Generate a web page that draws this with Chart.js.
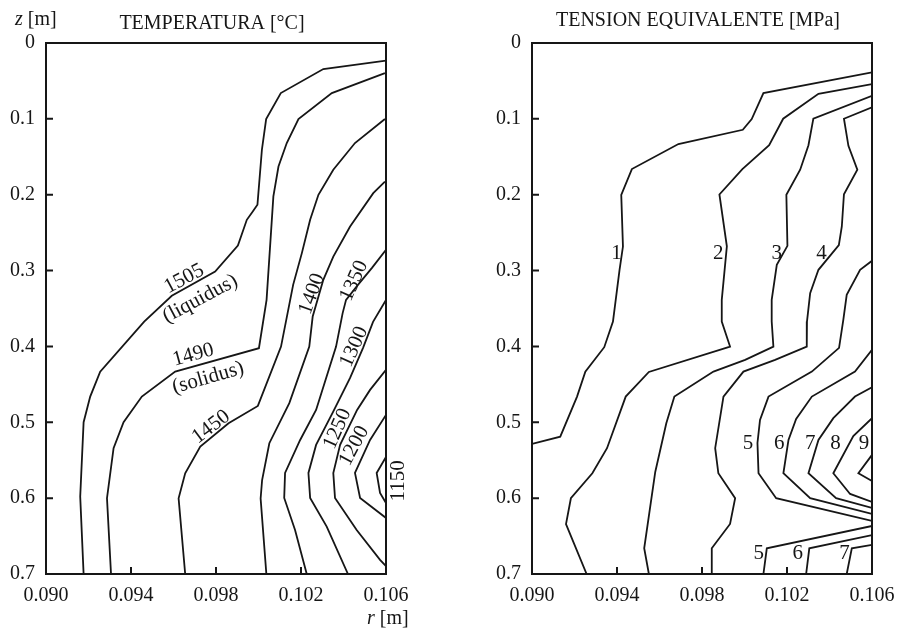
<!DOCTYPE html>
<html>
<head>
<meta charset="utf-8">
<script src="https://cdn.jsdelivr.net/npm/chart.js@4.4.0/dist/chart.umd.min.js"></script>
<style>
  body { margin: 0; background: #fff; }
  .wrap { display: flex; width: 899px; height: 633px; }
  canvas { display: block; }
</style>
</head>
<body>
<div class="wrap">
  <canvas id="tempChart" width="450" height="633"></canvas>
  <canvas id="stressChart" width="449" height="633"></canvas>
</div>
<script>
// tick labels
const rTicks = [0.090, 0.094, 0.098, 0.102, 0.106];
const zTicks = [0, 0.1, 0.2, 0.3, 0.4, 0.5, 0.6, 0.7];

// isotermas, puntos [r, z]
const t1505 = [[0.10600,0.0233],[0.10305,0.0343],[0.10105,0.0660],[0.10036,0.1002],[0.10016,0.1407],[0.09995,0.2133],[0.09973,0.2221],[0.09945,0.2331],[0.09903,0.2670],[0.09796,0.3013],[0.09592,0.3333],[0.09462,0.3672],[0.09255,0.4332],[0.09208,0.4661],[0.09177,0.4999],[0.09161,0.5980],[0.09177,0.7000]];
const t1490 = [[0.10595,0.0396],[0.10345,0.0660],[0.10188,0.1002],[0.10133,0.1319],[0.10094,0.1628],[0.10070,0.2023],[0.10038,0.3386],[0.10002,0.4023],[0.09608,0.4332],[0.09451,0.4661],[0.09365,0.4999],[0.09318,0.5342],[0.09287,0.6001],[0.09306,0.7000]];
const t1450 = [[0.10595,0.1002],[0.10454,0.1319],[0.10352,0.1671],[0.10282,0.2001],[0.10243,0.2331],[0.10204,0.2770],[0.10163,0.3188],[0.10106,0.4002],[0.09997,0.4784],[0.09859,0.5012],[0.09726,0.5321],[0.09655,0.5672],[0.09624,0.6001],[0.09655,0.7000]];
const t1400 = [[0.10595,0.1826],[0.10540,0.1979],[0.10431,0.2419],[0.10352,0.2815],[0.10305,0.3122],[0.10255,0.3606],[0.10239,0.4002],[0.10145,0.4748],[0.10051,0.5276],[0.10017,0.5761],[0.10010,0.6005],[0.10037,0.7000]];
const t1350 = [[0.10600,0.2726],[0.10534,0.2964],[0.10468,0.3188],[0.10412,0.3386],[0.10396,0.3561],[0.10365,0.4002],[0.10271,0.4837],[0.10196,0.5233],[0.10125,0.5668],[0.10121,0.5997],[0.10172,0.6420],[0.10227,0.7000]];
const t1300 = [[0.10600,0.3386],[0.10539,0.3676],[0.10492,0.4019],[0.10431,0.4415],[0.10351,0.4863],[0.10271,0.5298],[0.10235,0.5668],[0.10243,0.5997],[0.10321,0.6375],[0.10421,0.7000]];
const t1250 = [[0.10600,0.4309],[0.10525,0.4573],[0.10464,0.4837],[0.10384,0.5298],[0.10352,0.5668],[0.10360,0.5997],[0.10462,0.6420],[0.10572,0.6814],[0.10600,0.6895]];
const t1200 = [[0.10600,0.4903],[0.10525,0.5233],[0.10454,0.5668],[0.10478,0.5997],[0.10600,0.6261]];
const t1150 = [[0.10600,0.5457],[0.10556,0.5668],[0.10572,0.5932],[0.10600,0.6063]];

// tension equivalente, puntos [r, z]
const s1 = [[0.10600,0.0388],[0.10089,0.0660],[0.10034,0.1002],[0.09992,0.1144],[0.09689,0.1332],[0.09470,0.1662],[0.09420,0.2001],[0.09428,0.2683],[0.09412,0.2990],[0.09400,0.3254],[0.09381,0.3672],[0.09340,0.4010],[0.09251,0.4332],[0.09212,0.4661],[0.09133,0.5189],[0.09000,0.5285]];
const s2 = [[0.10600,0.0541],[0.10348,0.0669],[0.10182,0.0998],[0.10116,0.1348],[0.09990,0.1662],[0.09882,0.1997],[0.09917,0.2680],[0.09893,0.3386],[0.09893,0.3672],[0.09932,0.4002],[0.09550,0.4336],[0.09441,0.4661],[0.09353,0.5342],[0.09284,0.5672],[0.09183,0.6001],[0.09160,0.6343],[0.09257,0.7000]];
const s3 = [[0.10600,0.0695],[0.10324,0.0998],[0.10301,0.1348],[0.10262,0.1671],[0.10197,0.2001],[0.10202,0.2674],[0.10152,0.2924],[0.10128,0.3386],[0.10128,0.3672],[0.10136,0.4002],[0.10003,0.4177],[0.09854,0.4332],[0.09670,0.4661],[0.09632,0.5012],[0.09580,0.5655],[0.09528,0.6661],[0.09550,0.7000]];
const s4 = [[0.10600,0.0849],[0.10468,0.0998],[0.10489,0.1355],[0.10531,0.1671],[0.10468,0.1994],[0.10458,0.2419],[0.10444,0.2664],[0.10348,0.2990],[0.10309,0.3298],[0.10294,0.3672],[0.10293,0.4002],[0.10144,0.4177],[0.09995,0.4332],[0.09901,0.4661],[0.09862,0.5342],[0.09877,0.5672],[0.09956,0.6001],[0.09932,0.6340],[0.09846,0.6661],[0.09846,0.7000]];
const s5 = [[0.10600,0.2871],[0.10544,0.2990],[0.10481,0.3320],[0.10465,0.3650],[0.10445,0.4019],[0.10317,0.4332],[0.10113,0.4661],[0.10073,0.4969],[0.10061,0.5272],[0.10066,0.5672],[0.10149,0.6001],[0.10600,0.6300]];
const s6 = [[0.10600,0.4045],[0.10520,0.4332],[0.10317,0.4661],[0.10243,0.4955],[0.10207,0.5233],[0.10183,0.5672],[0.10309,0.6001],[0.10600,0.6209]];
const s7 = [[0.10600,0.4537],[0.10520,0.4661],[0.10418,0.4946],[0.10348,0.5233],[0.10301,0.5672],[0.10431,0.6001],[0.10600,0.6129]];
const s8 = [[0.10600,0.4946],[0.10512,0.5183],[0.10418,0.5672],[0.10497,0.5945],[0.10600,0.6050]];
const s9 = [[0.10600,0.5430],[0.10536,0.5672],[0.10600,0.5773]];
const s5b = [[0.10600,0.6367],[0.10105,0.6661],[0.10089,0.7000]];
const s6b = [[0.10600,0.6486],[0.10305,0.6661],[0.10290,0.7000]];
const s7b = [[0.10600,0.6617],[0.10505,0.6661],[0.10481,0.7000]];

// rótulos de las curvas: texto, r, z, giro en grados
const tempLabels = [
  ['1505', 0.09650, 0.3109, -28], ['(liquidus)', 0.09726, 0.3373, -28],
  ['1490', 0.09693, 0.4112, -15], ['(solidus)', 0.09763, 0.4415, -16],
  ['1450', 0.09777, 0.5061, -37], ['1400', 0.10252, 0.3307, -70],
  ['1350', 0.10450, 0.3135, -66], ['1300', 0.10450, 0.4006, -66],
  ['1250', 0.10372, 0.5087, -66], ['1200', 0.10450, 0.5312, -62],
  ['1150', 0.10659, 0.5773, -90]
];
const stressLabels = [
  ['1', 0.09398, 0.2779, 0], ['2', 0.09876, 0.2779, 0], ['3', 0.10152, 0.2779, 0], ['4', 0.10362, 0.2779, 0],
  ['5', 0.10017, 0.5285, 0], ['6', 0.10163, 0.5285, 0], ['7', 0.10309, 0.5285, 0], ['8', 0.10428, 0.5285, 0], ['9', 0.10562, 0.5285, 0],
  ['5', 0.10067, 0.6723, 0], ['6', 0.10251, 0.6723, 0], ['7', 0.10470, 0.6723, 0]
];

const FONT = '"Liberation Serif", "Times New Roman", serif';
const INK = '#161616';

// marco, marcas hacia adentro, título y rótulos
const panelPlugin = {
  id: 'panel',
  afterDraw(chart, args, opts) {
    const ctx = chart.ctx;
    const a = chart.chartArea;
    const xs = chart.scales.x, ys = chart.scales.y;
    ctx.save();
    ctx.strokeStyle = INK;
    ctx.lineWidth = 2;
    ctx.strokeRect(a.left, a.top, a.right - a.left, a.bottom - a.top);
    ctx.beginPath();
    rTicks.slice(1, -1).forEach(v => {
      const x = xs.getPixelForValue(v);
      ctx.moveTo(x, a.bottom); ctx.lineTo(x, a.bottom - 7);
    });
    zTicks.slice(1, -1).forEach(v => {
      const y = ys.getPixelForValue(v);
      ctx.moveTo(a.left, y); ctx.lineTo(a.left + 7, y);
    });
    ctx.stroke();

    ctx.fillStyle = INK;
    ctx.font = '20px ' + FONT;
    ctx.textAlign = 'center';
    ctx.textBaseline = 'alphabetic';
    ctx.fillText(opts.title, (a.left + a.right) / 2 - 4, opts.titleY);

    ctx.font = '21px ' + FONT;
    ctx.textBaseline = 'middle';
    opts.labels.forEach(l => {
      ctx.save();
      ctx.translate(xs.getPixelForValue(l[1]), ys.getPixelForValue(l[2]));
      ctx.rotate(l[3] * Math.PI / 180);
      ctx.fillText(l[0], 0, 0);
      ctx.restore();
    });

    if (opts.axisNames) {
      ctx.textAlign = 'left';
      ctx.textBaseline = 'alphabetic';
      const put = (name, x, y) => {
        ctx.font = 'italic 20px ' + FONT;
        ctx.fillText(name, x, y);
        const w = ctx.measureText(name).width;
        ctx.font = '20px ' + FONT;
        ctx.fillText(' [m]', x + w, y);
      };
      put('z', a.left - 31, 25);
      put('r', a.right - 19, a.bottom + 50);
    }
    ctx.restore();
  }
};

function makeChart(id, series, labels, title, titleY, pad, axisNames) {
  return new Chart(document.getElementById(id), {
    type: 'scatter',
    data: {
      datasets: series.map(pts => ({
        data: pts.map(p => ({ x: p[0], y: p[1] })),
        showLine: true,
        borderColor: INK,
        borderWidth: 1.8,
        pointRadius: 0,
        tension: 0,
        fill: false
      }))
    },
    options: {
      responsive: false,
      animation: false,
      events: [],
      layout: { padding: pad },
      plugins: {
        legend: { display: false },
        tooltip: { enabled: false },
        panel: { title: title, titleY: titleY, labels: labels, axisNames: axisNames }
      },
      scales: {
        x: {
          type: 'linear', min: 0.090, max: 0.106,
          grid: { display: false, drawTicks: true, tickLength: 10 }, border: { display: false },
          afterBuildTicks: s => { s.ticks = rTicks.map(v => ({ value: v })); },
          afterFit: s => { s.height = 45; },
          ticks: {
            padding: 0, color: INK, maxRotation: 0, autoSkip: false,
            font: { family: FONT, size: 20 },
            callback: v => v.toFixed(3)
          }
        },
        y: {
          type: 'linear', reverse: true, min: 0, max: 0.7,
          grid: { display: false, drawTicks: true, tickLength: 11 }, border: { display: false },
          afterBuildTicks: s => { s.ticks = zTicks.map(v => ({ value: v })); },
          afterFit: s => { s.width = 46; },
          ticks: {
            padding: 0, color: INK, autoSkip: false,
            font: { family: FONT, size: 20 },
            callback: v => v === 0 ? '0' : v.toFixed(1)
          }
        }
      }
    },
    plugins: [panelPlugin]
  });
}

makeChart('tempChart',
  [t1505, t1490, t1450, t1400, t1350, t1300, t1250, t1200, t1150],
  tempLabels, 'TEMPERATURA [\u00B0C]', 29,
  { left: 0, right: 64, top: 43, bottom: 14 }, true);

makeChart('stressChart',
  [s1, s2, s3, s4, s5, s6, s7, s8, s9, s5b, s6b, s7b],
  stressLabels, 'TENSION EQUIVALENTE [MPa]', 26,
  { left: 36, right: 27, top: 43, bottom: 14 }, false);
</script>
</body>
</html>
